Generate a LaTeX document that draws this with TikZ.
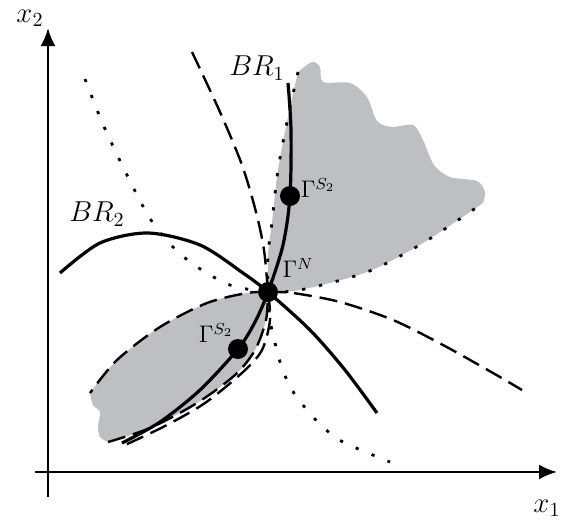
\documentclass[tikz,border=0pt]{standalone}
\usepackage{tikz}
\usetikzlibrary{arrows.meta,backgrounds}
\definecolor{brgray}{RGB}{190,191,195}

\begin{document}
\begin{tikzpicture}[x=0.5pt,y=-0.5pt,
  axis/.style={line width=1.3pt,-{Latex[length=9pt,width=7.5pt]}},
  brline/.style={line width=1.6pt},
  dsh/.style={line width=1.2pt,dash pattern=on 9pt off 4pt},
  dtd/.style={line width=1.4pt,dash pattern=on 1.6pt off 7pt},
  eqpt/.style={circle,fill=black,inner sep=0pt,minimum size=10pt},
  lbl/.style={inner sep=0pt,font=\large}]
  \useasboundingbox (0,0) rectangle (563,521);
  % axes
  \coordinate (xl) at (35,472);
  \coordinate (xr) at (557,472);
  \coordinate (yb) at (48,497);
  \coordinate (yt) at (48,28);
  \draw[axis] (xl) -- (xr);
  \draw[axis] (yb) -- (yt);
  \node[lbl,font=\Large] (xone) at (547,508) {$x_1$};
  \node[lbl,font=\Large] (xtwo) at (30,18) {$x_2$};
  % equilibria
  \node[eqpt] (gN) at (268,292) {};
  \node[eqpt] (gS1) at (290,196) {};
  \node[eqpt] (gS2) at (238,349) {};
  \node[lbl] (lN) at (298,268) {$\Gamma^N$};
  \node[lbl] (lS1) at (318,188) {$\Gamma^{S_2}$};
  \node[lbl] (lS2) at (216,333) {$\Gamma^{S_2}$};
  \node[lbl,font=\Large] (lBRa) at (257,68) {$BR_1$};
  \node[lbl,font=\Large] (lBRb) at (97,214) {$BR_2$};
  \begin{scope}[on background layer]
    % shaded regions
    \fill[brgray] plot[smooth] coordinates {(298,72) (288,117) (278,170) (272,222) (268,255) (gN.center)}
      -- plot[smooth] coordinates {(gN.center) (300,290) (367,272) (423,243) (483,203)}
      -- plot[smooth] coordinates {(483,203) (485,192) (477,181) (450,177) (434,165) (423,140)
        (413,125) (392,127) (377,121) (367,97) (350,83) (323,82) (320,67) (312,62) (298,72)} -- cycle;
    \fill[brgray] plot[smooth] coordinates {(gN.center) (247,293) (207,303) (160,327) (117,360) (90,393)}
      -- plot[smooth] coordinates {(90,393) (93,405) (100,412) (98,426) (100,437) (108,442)}
      -- plot[smooth] coordinates {(108,442) (150,428) (197,403) (235,375) (255,350) (266,320) (gN.center)} -- cycle;
    % dotted curves
    \draw[dtd] plot[smooth] coordinates {(85,79) (102,122) (122,165) (145,210) (158,230) (173,247)
      (190,262) (210,275) (230,285) (252,290) (gN.center)};
    \draw[dtd] plot[smooth] coordinates {(gN.center) (300,290) (367,272) (423,243) (483,203)};
    \draw[dtd] plot[smooth] coordinates {(298,72) (288,117) (278,170) (272,222) (268,255) (gN.center)};
    \draw[dtd] plot[smooth] coordinates {(gN.center) (270,320) (275,343) (282,368) (292,390)
      (307,410) (323,427) (343,442) (390,462)};
    % dashed curves
    \draw[dsh] plot[smooth] coordinates {(192,52) (220,112) (242,165) (256,212) (264,250) (gN.center)};
    \draw[dsh] plot[smooth] coordinates {(gN.center) (270,320) (262,350) (243,372) (205,403) (165,426) (125,445)};
    \draw[dsh] plot[smooth] coordinates {(gN.center) (293,293) (340,302) (393,320) (443,345) (493,373) (522,390)};
    \draw[dsh] plot[smooth] coordinates {(gN.center) (247,293) (207,303) (160,327) (117,360) (90,393)};
    \draw[dsh] plot[smooth] coordinates {(108,442) (150,428) (197,403) (235,375) (255,350) (266,320) (gN.center)};
    % best responses
    \draw[brline] plot[smooth] coordinates {(288,83) (291,130) (gS1.center) (283,245) (gN.center)
      (255,322) (gS2.center) (200,390) (160,422) (122,443)};
    \draw[brline] plot[smooth] coordinates {(60,273) (100,243) (148,233) (200,245) (243,273)
      (gN.center) (310,330) (345,370) (377,413)};
  \end{scope}
\end{tikzpicture}
\end{document}
